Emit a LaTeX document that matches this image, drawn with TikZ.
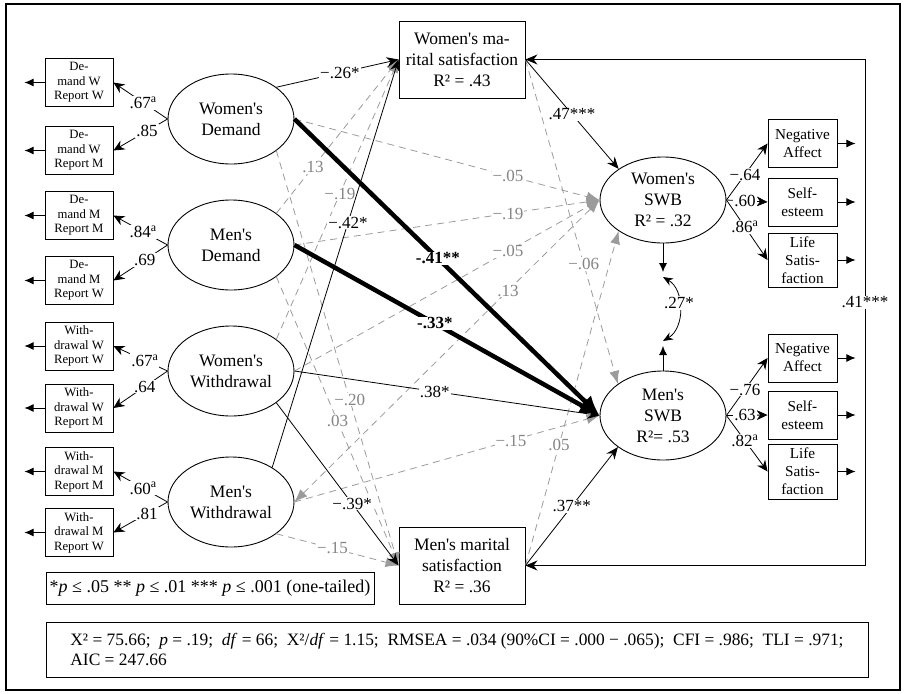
\documentclass[tikz,border=0pt]{standalone}
\usepackage{fontspec}
\setmainfont{Liberation Serif}[Ligatures=TeXOff]
\usetikzlibrary{shapes.geometric,arrows.meta}
\definecolor{nsgray}{RGB}{155,155,155}
\newcommand{\ua}{\textsuperscript{a}}

\begin{document}
\begin{tikzpicture}[x=1pt,y=-1pt,font=\fontsize{17.5}{21}\selectfont]
  \tikzstyle{latent}=[draw,ellipse,line width=0.9pt,inner sep=0pt,minimum width=126pt,minimum height=90pt,align=center]
  \tikzstyle{obs}=[draw,rectangle,line width=0.9pt,inner sep=0pt,align=center]
  \tikzstyle{lind}=[obs,minimum width=68pt,minimum height=48pt,font=\fontsize{12.7}{14.5}\selectfont]
  \tikzstyle{rind}=[obs,minimum width=69pt,minimum height=48pt,font=\fontsize{15.2}{18}\selectfont]
  \tikzstyle{sig}=[line width=0.8pt,-{Stealth[length=12pt,width=10pt]}]
  \tikzstyle{nsig}=[nsgray,line width=0.8pt,dash pattern=on 7pt off 5pt,-{Latex[length=13pt,width=10pt]}]
  \tikzstyle{strong}=[line width=4.5pt,-{Latex[length=20pt,width=17pt]}]
  \tikzstyle{load}=[line width=0.8pt,-{Stealth[length=11pt,width=10pt]}]
  \tikzstyle{err}=[line width=0.8pt,-{Latex[length=9pt,width=8pt]}]
  \tikzstyle{coef}=[fill=white,inner sep=1pt,font=\fontsize{17}{20}\selectfont]
  \tikzstyle{nscoef}=[coef,text=nsgray!85!black]

  \useasboundingbox (0,0) rectangle (906,694);
  \draw[line width=2.6pt] (6,4) rectangle (900,690);

  \node[latent] (wdem) at (231,119) {Women's\\Demand};
  \node[latent] (mdem) at (231,245) {Men's\\Demand};
  \node[latent] (wwdr) at (231,371) {Women's\\Withdrawal};
  \node[latent] (mwdr) at (231,502) {Men's\\Withdrawal};
  \node[latent,minimum height=86pt] (wswb) at (663,200) {Women's\\SWB\\R² = .32};
  \node[latent,minimum height=89pt] (mswb) at (663,415.5) {Men's\\SWB\\R²= .53};
  \node[obs,minimum width=126pt,minimum height=77pt] (wms) at (462,59.5) {Women's ma-\\rital satisfaction\\R² = .43};
  \node[obs,minimum width=126pt,minimum height=77pt] (mms) at (462,565.5) {Men's marital\\satisfaction\\R² = .36};

  \node[lind] (dww) at (79,82.5) {De-\\mand W\\Report W};
  \node[lind] (dwm) at (79,150.5) {De-\\mand W\\Report M};
  \node[lind] (dmm) at (79,215.5) {De-\\mand M\\Report M};
  \node[lind] (dmw) at (79,280.5) {De-\\mand M\\Report W};
  \node[lind] (www) at (79,346) {With-\\drawal W\\Report W};
  \node[lind] (wwm) at (79,408) {With-\\drawal W\\Report M};
  \node[lind] (wmm) at (79,471.5) {With-\\drawal M\\Report M};
  \node[lind] (wmw) at (79,532.5) {With-\\drawal M\\Report W};

  \node[rind] (wna) at (802.5,143.5) {Negative\\Affect};
  \node[rind] (wse) at (802.5,202) {Self-\\esteem};
  \node[rind,minimum height=54pt] (wls) at (802.5,260) {Life\\Satis-\\faction};
  \node[rind] (mna) at (802.5,358) {Negative\\Affect};
  \node[rind] (mse) at (802.5,415) {Self-\\esteem};
  \node[rind,minimum height=55pt] (mls) at (802.5,471.5) {Life\\Satis-\\faction};

  \foreach \b in {dww,dwm,dmm,dmw,www,wwm,wmm,wmw} {
    \coordinate (\b-e) at ([xshift=-20pt]\b.west);
    \draw[err] (\b.west) -- (\b-e);
  }
  \foreach \b in {wna,wse,wls,mna,mse,mls} {
    \coordinate (\b-e) at ([xshift=18pt]\b.east);
    \draw[err] (\b.east) -- (\b-e);
  }

  \draw[load] (wdem.west) -- node[coef,pos=.45]{.67\ua} (dww.east);
  \draw[load] (wdem.west) -- node[coef,pos=.38]{.85} (dwm.east);
  \draw[load] (mdem.west) -- node[coef,pos=.45]{.84\ua} (dmm.east);
  \draw[load] (mdem.west) -- node[coef,pos=.42]{.69} (dmw.east);
  \draw[load] (wwdr.west) -- node[coef,pos=.42]{.67\ua} (www.east);
  \draw[load] (wwdr.west) -- node[coef,pos=.42]{.64} (wwm.east);
  \draw[load] (mwdr.west) -- node[coef,pos=.45]{.60\ua} (wmm.east);
  \draw[load] (mwdr.west) -- node[coef,pos=.38]{.81} (wmw.east);

  \draw[load] (wswb.east) -- node[coef,pos=.45]{−.64} (wna.west);
  \draw[load] (wswb.east) -- node[coef,pos=.45]{.60} (wse.west);
  \draw[load] (wswb.east) -- node[coef,pos=.45]{.86\ua} (wls.west);
  \draw[load] (mswb.east) -- node[coef,pos=.45]{−.76} (mna.west);
  \draw[load] (mswb.east) -- node[coef,pos=.45]{.63} (mse.west);
  \draw[load] (mswb.east) -- node[coef,pos=.45]{.82\ua} (mls.west);

  \draw[nsig] (wdem.east) -- node[nscoef,pos=.7]{−.05} (wswb.west);
  \draw[nsig] (wdem.-35) -- node[nscoef,pos=.6]{−.20} (mms.west);
  \draw[nsig] (mdem.35) -- node[nscoef,pos=.3]{.13} (wms.west);
  \draw[nsig] (mdem.east) -- node[nscoef,pos=.7]{−.19} (wswb.west);
  \draw[nsig] (mdem.-35) -- node[nscoef,pos=.5]{.03} (mms.west);
  \draw[nsig] (wwdr.35) -- node[nscoef,pos=.52]{−.19} (wms.west);
  \draw[nsig] (wwdr.east) -- node[nscoef,pos=.7]{−.05} (wswb.west);
  \draw[nsig,{Latex[length=13pt,width=10pt]}-{Latex[length=13pt,width=10pt]}] (mwdr.east) -- node[nscoef,pos=.7]{.13} (wswb.west);
  \draw[nsig] (mwdr.east) -- node[nscoef,pos=.71]{−.15} (mswb.west);
  \draw[nsig] (mwdr.-35) -- node[nscoef,pos=.46]{−.15} (mms.west);
  \draw[nsig] (wms.east) -- node[nscoef,pos=.63]{−.06} (mswb.145);
  \draw[nsig] (mms.east) -- node[nscoef,pos=.36]{.05} (wswb.215);

  \draw[sig] (wdem.35) -- node[coef,pos=.52]{−.26*} (wms.west);
  \draw[sig] (wwdr.east) -- node[coef,pos=.46]{.38*} (mswb.west);
  \draw[sig] (wwdr.-35) -- node[coef,pos=.62]{−.39*} (mms.west);
  \draw[sig] (mwdr.40) -- node[coef,pos=.6]{−.42*} (wms.west);
  \draw[sig] (wms.east) -- node[coef,pos=.5]{.47***} (wswb.145);
  \draw[sig] (mms.east) -- node[coef,pos=.5]{.37**} (mswb.215);

  \draw[strong] (wdem.east) -- node[coef,pos=.47]{\textbf{-.41**}} (mswb.west);
  \draw[strong] (mdem.east) -- node[coef,pos=.46]{\textbf{-.33*}} (mswb.west);

  \coordinate (rail) at (865,300);
  \draw[line width=0.8pt,{Stealth[length=12pt,width=10pt]}-{Stealth[length=12pt,width=10pt]}] (wms.east) -- (wms.east -| rail) -- node[coef,pos=.48]{.41***} (mms.east -| rail) -- (mms.east);

  \coordinate (ewt) at (663,272);
  \coordinate (emt) at (663,346);
  \coordinate (ewc) at (663,277);
  \coordinate (emc) at (663,341);
  \draw[err] (wswb.south) -- (ewt);
  \draw[err] (mswb.north) -- (emt);
  \draw[line width=0.8pt,{Stealth[length=10pt,width=8pt]}-{Stealth[length=10pt,width=8pt]}] (ewc) .. controls (685,290) and (685,328) .. node[coef,pos=.42]{.27*} (emc);

  \node[obs,minimum width=328pt,minimum height=32pt,font=\fontsize{18}{21}\selectfont] (note) at (210,588) {*\textit{p} ≤ .05 ** \textit{p} ≤ .01 *** \textit{p} ≤ .001 (one-tailed)};
  \node[obs,align=left,minimum width=822pt,minimum height=55pt,font=\fontsize{17.4}{20}\selectfont] (fit) at (457,649.5) {X² = 75.66;\ \ \textit{p} = .19;\ \ \textit{df} = 66;\ \ X²/\textit{df} = 1.15;\ \ RMSEA = .034 (90\%CI = .000 − .065);\ \ CFI = .986;\ \ TLI = .971;\\AIC = 247.66};
\end{tikzpicture}
\end{document}
